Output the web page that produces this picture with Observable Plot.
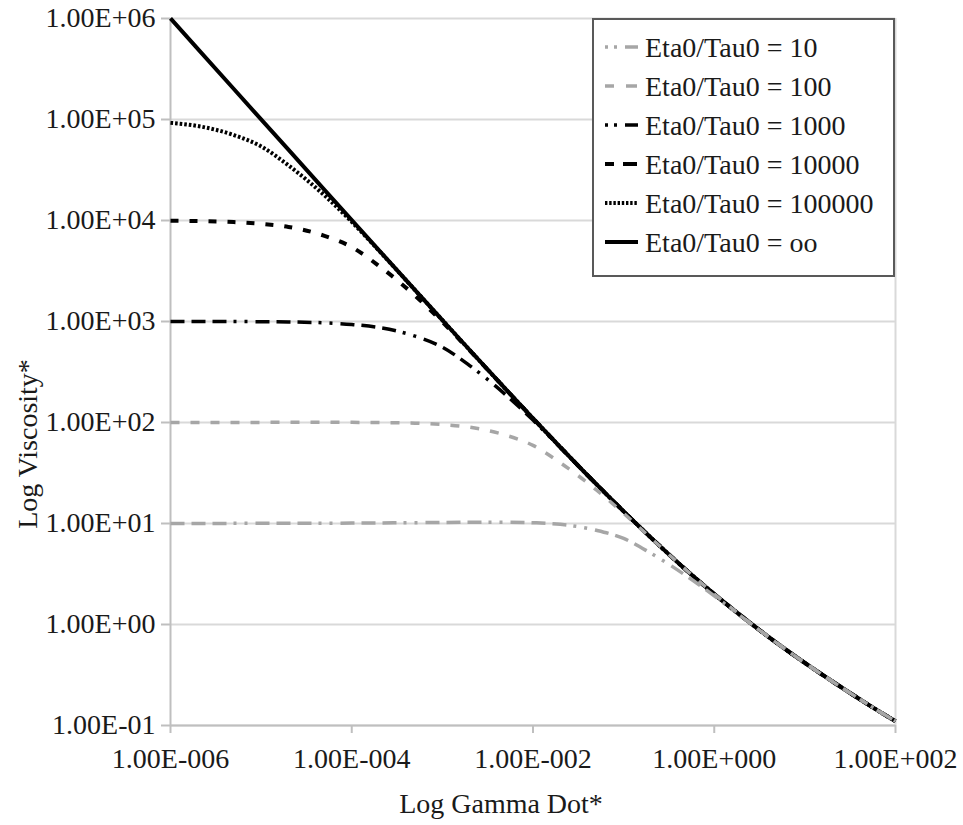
<!DOCTYPE html>
<html><head><meta charset="utf-8">
<script src="https://cdn.jsdelivr.net/npm/d3@7"></script>
<script src="https://cdn.jsdelivr.net/npm/@observablehq/plot@0.6"></script>
<style>
html,body{margin:0;padding:0;background:#fff;}
#wrap{position:relative;width:963px;height:825px;}
#wrap svg.legend{position:absolute;left:0;top:0;}
</style></head><body><div id="wrap"></div>
<script>
// ---- data ----
const gammaDot  = [1e-6,2e-6,5e-6,1e-5,2e-5,5e-5,1e-4,2e-4,5e-4,1e-3,2e-3,5e-3,1e-2,2e-2,5e-2,0.1,0.2,0.5,1,2,5,10,20,50,100];
const etaInf    = [1.001e6,5.007e5,2.0045e5,1.0032e5,5.022e4,2.014e4,1.01e4,5070,2045,1032,522,214,110,57.1,24.5,13.2,7.24,3.41,2.0,1.21,0.647,0.416,0.274,0.161,0.11];
const eta100000 = [92590,86120,70150,54170,35160,17720,9696,5020,2045,1032,522,214,110,57.1,24.5,13.2,7.24,3.41,2.0,1.21,0.647,0.416,0.274,0.161,0.11];
const eta10000  = [9940,9864,9651,9280,8639,7050,5454,3549,1799,990,517,214,110,57.1,24.5,13.2,7.24,3.41,2.0,1.21,0.647,0.416,0.274,0.161,0.11];
const eta1000   = [1000.5,1000.4,999.2,996.2,989.4,969.8,934,872,716,557,366,188,105.6,56.5,24.5,13.2,7.24,3.41,2.0,1.21,0.647,0.416,0.274,0.161,0.11];
const eta100    = [100.1,100.14,100.19,100.27,100.35,100.4,100.3,99.9,98.5,95.4,89.8,74.9,59.4,39.9,21.5,12.6,7.16,3.41,2.0,1.21,0.647,0.416,0.274,0.161,0.11];
const eta10     = [10.01,10.02,10.03,10.04,10.05,10.07,10.09,10.13,10.19,10.24,10.29,10.31,10.18,9.82,8.57,7.11,5.07,3.0,1.92,1.195,0.647,0.416,0.274,0.161,0.11];

const seriesNames = ["Eta0/Tau0 = 10","Eta0/Tau0 = 100","Eta0/Tau0 = 1000","Eta0/Tau0 = 10000","Eta0/Tau0 = 100000","Eta0/Tau0 = oo"];
const seriesValues = [eta10, eta100, eta1000, eta10000, eta100000, etaInf];

const yTicks = [0.1,1,10,100,1e3,1e4,1e5,1e6];
const yTickLabels = ["1.00E-01","1.00E+00","1.00E+01","1.00E+02","1.00E+03","1.00E+04","1.00E+05","1.00E+06"];
const xTicks = [1e-6,1e-4,1e-2,1,100];
const xTickLabels = ["1.00E-006","1.00E-004","1.00E-002","1.00E+000","1.00E+002"];
const xTitle = "Log Gamma Dot*";
const yTitle = "Log Viscosity*";

// ---- styles ----
const GRAY = "#a6a6a6";
const dashDot = "14,7,14,7,14,7,3,8,3,8";
const lineStyles = [
  {stroke: GRAY, strokeWidth: 3.5, strokeDasharray: dashDot, legendDash: "3,6,3,8,13"},
  {stroke: GRAY, strokeWidth: 3.5, strokeDasharray: "9,11", legendDash: "9,12,11"},
  {stroke: "#000", strokeWidth: 3.5, strokeDasharray: dashDot, legendDash: "3,6,3,8,13"},
  {stroke: "#000", strokeWidth: 4, strokeDasharray: "8,11", legendDash: "9,9,14"},
  {stroke: "#000", strokeWidth: 4, strokeDasharray: "2.6,2", legendDash: "2.4,1.8"},
  {stroke: "#000", strokeWidth: 4, strokeDasharray: null, legendDash: null}
];

const rows = seriesValues.map((vals, s) => gammaDot.map((g, i) => ({g, eta: vals[i], s})));

const fmtY = v => yTickLabels[yTicks.findIndex(t => Math.abs(Math.log10(t) - Math.log10(v)) < 1e-9)];
const fmtX = v => xTickLabels[xTicks.findIndex(t => Math.abs(Math.log10(t) - Math.log10(v)) < 1e-9)];
const FONT = "'Liberation Serif', 'Times New Roman', serif";
const TXT = "#1a1a1a";

// draw order: infinite first, gray curves on top
const order = [5,4,3,2,1,0];
const lineMarks = order.map(s => Plot.line(rows[s], {
  x: "g", y: "eta", curve: "monotone-x",
  stroke: lineStyles[s].stroke, strokeWidth: lineStyles[s].strokeWidth,
  strokeDasharray: lineStyles[s].strokeDasharray, strokeLinecap: "butt", strokeLinejoin: "round"
}));

const chart = Plot.plot({
  width: 963, height: 825,
  marginLeft: 170, marginRight: 68, marginTop: 18, marginBottom: 100,
  x: {type: "log", domain: [1e-6, 100]},
  y: {type: "log", domain: [0.1, 1e6]},
  style: {fontFamily: FONT, fontSize: "28px", background: "#fff", color: TXT},
  marks: [
    Plot.ruleY(yTicks, {stroke: "#d9d9d9", strokeWidth: 2}),
    Plot.ruleX([100], {stroke: "#d9d9d9", strokeWidth: 2}),
    Plot.ruleX([1e-6], {stroke: "#bfbfbf", strokeWidth: 2}),
    Plot.ruleY([0.1], {stroke: "#bfbfbf", strokeWidth: 2}),
    Plot.axisY({ticks: yTicks, tickFormat: fmtY, tickSize: 9, tickPadding: 6, stroke: "#bfbfbf", strokeWidth: 2, fill: TXT, fontSize: 28, label: null}),
    Plot.axisX({ticks: xTicks, tickFormat: fmtX, tickSize: 8, tickPadding: 15, stroke: "#bfbfbf", strokeWidth: 2, fill: TXT, fontSize: 28, label: null}),
    ...lineMarks,
    Plot.text([xTitle], {text: d => d, frameAnchor: "bottom", dx: -32, dy: 87, lineAnchor: "bottom", fontSize: 28, fill: TXT})
  ]
});
const wrap = document.getElementById("wrap");
wrap.appendChild(chart);

// ---- overlay: y-axis title and legend ----
const svg = d3.select(wrap).append("svg").attr("class", "legend")
  .attr("width", 963).attr("height", 825).style("pointer-events", "none");
svg.append("text").attr("transform", "translate(37,444) rotate(-90)")
  .attr("text-anchor", "middle").attr("font-family", FONT).attr("font-size", 28)
  .attr("fill", TXT).text(yTitle);

const L = {x: 593, y: 19, w: 301, h: 257, first: 28, step: 39};
svg.append("rect").attr("x", L.x).attr("y", L.y).attr("width", L.w).attr("height", L.h)
  .attr("fill", "#fff").attr("stroke", "#595959").attr("stroke-width", 2);
seriesNames.forEach((name, i) => {
  const cy = L.y + L.first + i * L.step;
  const st = lineStyles[i];
  svg.append("line").attr("x1", L.x + 12).attr("x2", L.x + 45).attr("y1", cy).attr("y2", cy)
    .attr("stroke", st.stroke).attr("stroke-width", st.strokeWidth)
    .attr("stroke-dasharray", st.legendDash).attr("stroke-linecap", "butt");
  svg.append("text").attr("x", L.x + 52).attr("y", cy + 10)
    .attr("font-family", FONT).attr("font-size", 28).attr("fill", TXT).text(name);
});
</script></body></html>
